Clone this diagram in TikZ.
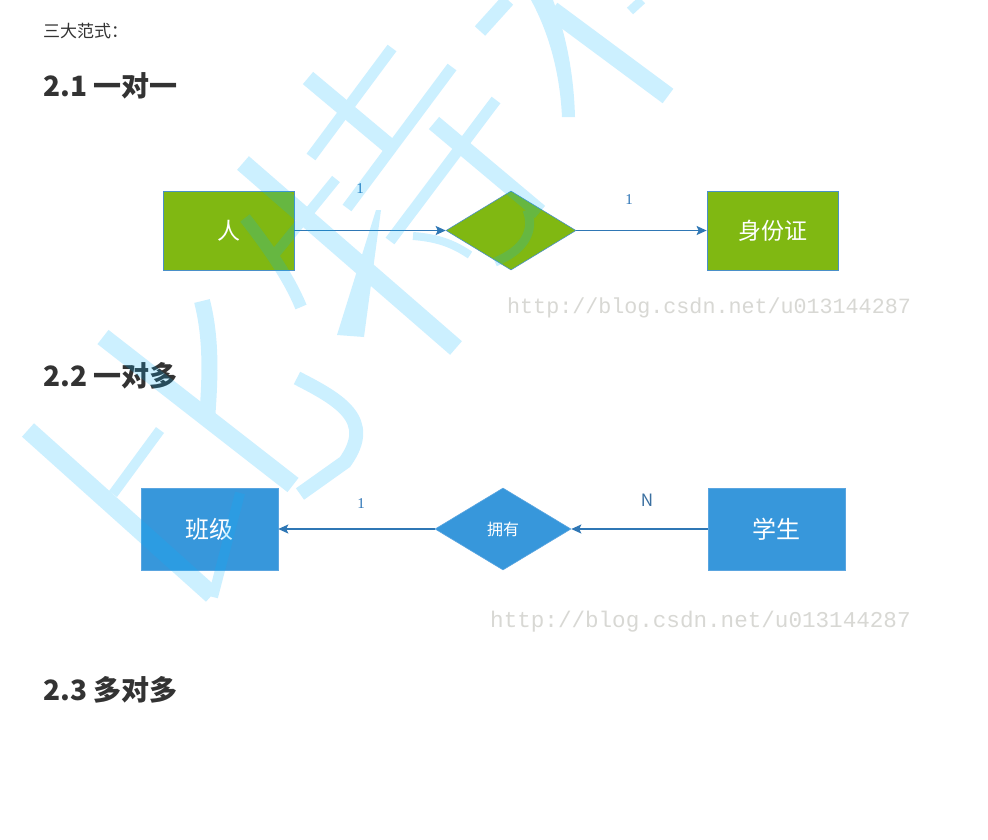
\documentclass[tikz,border=0pt]{standalone}
\usepackage{fontspec}
\newfontfamily\cjk{Noto Sans CJK SC}
\newfontfamily\urlfont{Liberation Mono}
\newfontfamily\numfont{Liberation Serif}
\usetikzlibrary{shapes.geometric,arrows.meta}
\definecolor{txt}{HTML}{333333}
\definecolor{erg}{HTML}{80B812}
\definecolor{erb}{HTML}{3797DB}
\definecolor{bordg}{HTML}{4A90C8}
\definecolor{bordb}{HTML}{5AA5E0}
\definecolor{arrowc}{HTML}{2F77B5}
\definecolor{labc}{HTML}{2E75B6}
\definecolor{labn}{HTML}{3A6FA0}
\definecolor{urlc}{HTML}{D8D8D4}
\definecolor{wmc}{HTML}{00B4FF}
\begin{document}
\begin{tikzpicture}[x=1pt,y=-1pt,
  head/.style={anchor=west,inner sep=0,text=txt,font=\cjk\fontsize{17}{17}\selectfont},
  headb/.style={anchor=west,inner sep=0,text=txt,font=\cjk\bfseries\fontsize{28}{28}\selectfont},
  entg/.style={rectangle,draw=bordg,line width=0.8pt,fill=erg,minimum width=131pt,minimum height=79pt,inner sep=0,text=white,font=\cjk\fontsize{23}{23}\selectfont},
  relg/.style={diamond,draw=bordg,line width=0.6pt,fill=erg,minimum width=130pt,minimum height=79pt,inner sep=0},
  entb/.style={rectangle,draw=bordb,line width=0.6pt,fill=erb,minimum width=137pt,minimum height=82pt,inner sep=0,text=white,font=\cjk\fontsize{24}{24}\selectfont},
  relb/.style={diamond,draw=bordb,line width=0.6pt,fill=erb,minimum width=136pt,minimum height=82pt,inner sep=0,text=white,font=\cjk\fontsize{16}{16}\selectfont},
  conn/.style={draw=arrowc,line width=1.3pt,-{Stealth[length=10pt,width=9pt,inset=2pt]}},
  lab/.style={inner sep=0,text=labc,font=\numfont\fontsize{15}{15}\selectfont},
  labN/.style={inner sep=0,text=labn,font=\cjk\fontsize{17}{17}\selectfont},
  urlt/.style={anchor=west,inner sep=0,text=urlc},
  wm/.style={draw=wmc,line cap=butt}]
\fill[white] (0,0) rectangle (988,839);
\useasboundingbox (0,0) rectangle (988,839);

% headings
\node[head] (h0) at (43,31) {三大范式：};
\node[headb] (h1) at (43,86) {2.1 一对一};
\node[headb] (h2) at (43,376) {2.2 一对多};
\node[headb] (h3) at (43,690) {2.3 多对多};

% one-to-one
\node[entg] (p) at (228.5,230.5) {人};
\node[relg] (r1) at (511,230.5) {};
\node[entg] (id) at (772.5,230.5) {身份证};
\draw[conn] (p.east) -- (r1.west);
\draw[conn] (r1.east) -- (id.west);
\node[lab] (l1) at (360,189) {1};
\node[lab] (l2) at (629,200) {1};
\node[urlt,font=\urlfont\fontsize{21.7}{21.7}\selectfont] (u1) at (507,308) {http://blog.csdn.net/u013144287};

% one-to-many
\node[entb] (cls) at (209.5,529) {班级};
\node[relb] (r2) at (503,529) {拥有};
\node[entb] (stu) at (776.5,529) {学生};
\draw[conn] (stu.west) -- (r2.east);
\draw[conn] (r2.west) -- (cls.east);
\node[lab] (l3) at (361,504) {1};
\node[labN] (l4) at (647,500) {N};
\node[urlt,font=\urlfont\fontsize{22.6}{22.6}\selectfont] (u2) at (490,622) {http://blog.csdn.net/u013144287};

% watermark
\begin{scope}[transparency group,opacity=0.2]
\draw[wm,line width=16] (308,78) -- (394,150);
\draw[wm,line width=11] (392,48) -- (311,157);
\draw[wm,line width=11] (452,67) -- (347,208);
\draw[wm,line width=16] (434,123) -- (540,212);
\draw[wm,line width=11] (496,100) -- (390,241);
\draw[wm,line width=18] (243,163) -- (456,348);
\fill[wmc] (376,210) -- (381,210) -- (364,337) -- (337,335) -- cycle;
\draw[wm,line width=12] (245,218) .. controls (270,250) and (290,280) .. (301,307);
\draw[wm,line width=10] (336,179) -- (275,254);
\draw[wm,line width=9] (527,210) .. controls (535,230) and (525,250) .. (495,262);
\draw[wm,line width=8] (413,236) .. controls (440,238) and (455,245) .. (470,255);
\draw[wm,line width=14] (480,31) -- (508,0);
\fill[wmc] (531,0) -- (553,0) .. controls (568,40) and (574,80) .. (575,117) -- (562,117) .. controls (560,75) and (550,35) .. (531,0) -- cycle;
\draw[wm,line width=18] (552,10) -- (668,96);
\draw[wm,line width=9] (630,11) -- (642,0);
\draw[wm,line width=18] (103,337) -- (293,485);
\draw[wm,line width=14] (297,378) .. controls (340,400) and (375,420) .. (345,462) -- (300,494);
\draw[wm,line width=16] (202,301) .. controls (212,340) and (210,380) .. (207,420);
\draw[wm,line width=18] (28,430) -- (212,595);
\draw[wm,line width=10] (113,494) -- (160,430);
\draw[wm,line width=10] (240,493) -- (213,597);
\end{scope}
\end{tikzpicture}
\end{document}
